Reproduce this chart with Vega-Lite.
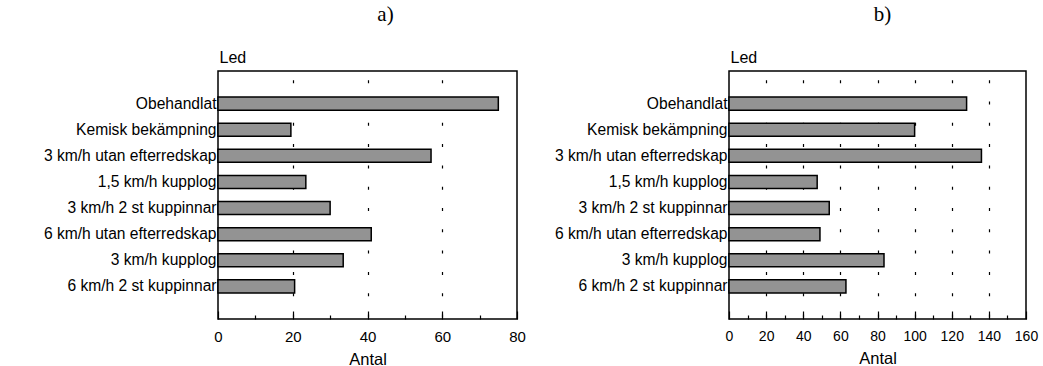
{
  "$schema": "https://vega.github.io/schema/vega-lite/v6.json",
  "background": "white",
  "padding": {"left": 42, "top": 3, "right": 5, "bottom": 0},
  "spacing": 26,
  "config": {
    "font": "Liberation Sans",
    "view": {"stroke": "black", "strokeWidth": 1.5},
    "title": {"font": "Liberation Serif", "fontSize": 21, "fontWeight": "normal", "color": "black"}
  },
  "datasets": {
    "a": [
      {"Led": "Obehandlat", "Antal": 75},
      {"Led": "Kemisk bekämpning", "Antal": 19.5},
      {"Led": "3 km/h utan efterredskap", "Antal": 57},
      {"Led": "1,5 km/h kupplog", "Antal": 23.5},
      {"Led": "3 km/h 2 st kuppinnar", "Antal": 30},
      {"Led": "6 km/h utan efterredskap", "Antal": 41},
      {"Led": "3 km/h kupplog", "Antal": 33.5},
      {"Led": "6 km/h 2 st kuppinnar", "Antal": 20.5}
    ],
    "b": [
      {"Led": "Obehandlat", "Antal": 128},
      {"Led": "Kemisk bekämpning", "Antal": 100},
      {"Led": "3 km/h utan efterredskap", "Antal": 136},
      {"Led": "1,5 km/h kupplog", "Antal": 47.5},
      {"Led": "3 km/h 2 st kuppinnar", "Antal": 54},
      {"Led": "6 km/h utan efterredskap", "Antal": 49},
      {"Led": "3 km/h kupplog", "Antal": 83.5},
      {"Led": "6 km/h 2 st kuppinnar", "Antal": 63}
    ]
  },
  "hconcat": [
    {
      "width": 299,
      "height": 248,
      "title": {"text": "a)", "anchor": "middle", "frame": "group", "dx": 18, "offset": 24},
      "data": {"name": "a"},
      "mark": {"type": "bar", "fill": "#939393", "stroke": "black", "strokeWidth": 1.5},
      "encoding": {
        "y": {
          "field": "Led", "type": "nominal", "sort": null,
          "scale": {"paddingInner": 0.5, "paddingOuter": 1.64},
          "axis": {
            "title": "Led", "titleAngle": 0, "titleAlign": "left", "titleBaseline": "bottom",
            "titleX": 1, "titleY": -6, "titleFontSize": 16, "titleFontWeight": "normal", "titleColor": "black",
            "ticks": false, "domain": false, "labelPadding": 2, "labelFontSize": 15.6,
            "labelColor": "black", "labelLimit": 300
          }
        },
        "x": {
          "field": "Antal", "type": "quantitative",
          "scale": {"domain": [0, 80], "nice": false},
          "axis": {
            "title": "Antal", "titleFontSize": 16.5, "titleFontWeight": "normal", "titleColor": "black", "titlePadding": 7,
            "values": [0, 10, 20, 30, 40, 50, 60, 70, 80],
            "labelExpr": "datum.value % 20 === 0 ? datum.label : ''",
            "labelFontSize": 15, "labelColor": "black", "labelPadding": 18, "labelFlush": false,
            "domain": false,
            "tickColor": "black", "tickWidth": 1.2,
            "tickSize": {"condition": {"test": "datum.value % 20 === 0", "value": -8}, "value": -4},
            "grid": true, "gridColor": "black", "gridWidth": 1.2, "gridDash": [3, 18.3], "gridDashOffset": -2,
            "gridOpacity": {"condition": {"test": "datum.value % 20 === 0 && datum.value > 0 && datum.value < 80", "value": 1}, "value": 0}
          }
        }
      }
    },
    {
      "width": 297,
      "height": 248,
      "title": {"text": "b)", "anchor": "middle", "frame": "group", "dx": 5, "offset": 24},
      "data": {"name": "b"},
      "mark": {"type": "bar", "fill": "#939393", "stroke": "black", "strokeWidth": 1.5},
      "encoding": {
        "y": {
          "field": "Led", "type": "nominal", "sort": null,
          "scale": {"paddingInner": 0.5, "paddingOuter": 1.64},
          "axis": {
            "title": "Led", "titleAngle": 0, "titleAlign": "left", "titleBaseline": "bottom",
            "titleX": 1, "titleY": -6, "titleFontSize": 16, "titleFontWeight": "normal", "titleColor": "black",
            "ticks": false, "domain": false, "labelPadding": 2, "labelFontSize": 15.6,
            "labelColor": "black", "labelLimit": 300
          }
        },
        "x": {
          "field": "Antal", "type": "quantitative",
          "scale": {"domain": [0, 160], "nice": false},
          "axis": {
            "title": "Antal", "titleFontSize": 16.5, "titleFontWeight": "normal", "titleColor": "black", "titlePadding": 7,
            "values": [0, 10, 20, 30, 40, 50, 60, 70, 80, 90, 100, 110, 120, 130, 140, 150, 160],
            "labelExpr": "datum.value % 20 === 0 ? datum.label : ''",
            "labelFontSize": 14, "labelColor": "black", "labelPadding": 18, "labelFlush": false,
            "domain": false,
            "tickColor": "black", "tickWidth": 1.2,
            "tickSize": {"condition": {"test": "datum.value % 20 === 0", "value": -8}, "value": -4},
            "grid": true, "gridColor": "black", "gridWidth": 1.2, "gridDash": [3, 18.3], "gridDashOffset": -2,
            "gridOpacity": {"condition": {"test": "datum.value % 20 === 0 && datum.value > 0 && datum.value < 160", "value": 1}, "value": 0}
          }
        }
      }
    }
  ]
}
